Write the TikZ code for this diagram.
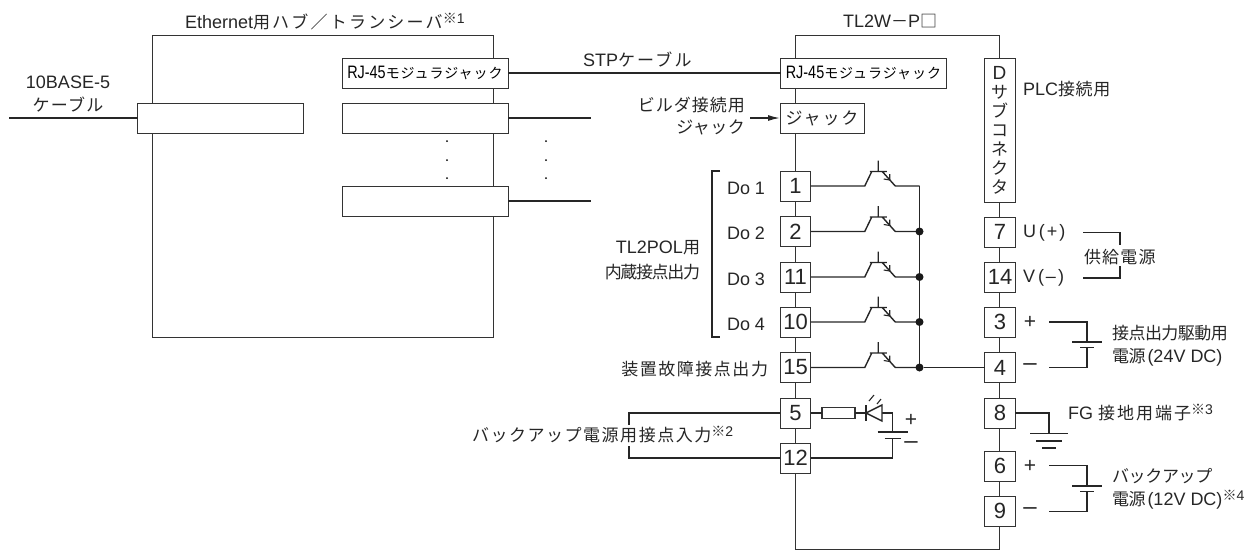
\documentclass[tikz,border=0pt]{standalone}
\usepackage{fontspec}
\setmainfont{Liberation Sans}
\newfontfamily\jp{Noto Sans CJK JP}
\usetikzlibrary{arrows.meta,calc}
\newcommand\fs[1]{\fontsize{#1}{#1}\selectfont}
\newcommand\J[2][0]{{\fs{17}\jp\addfontfeature{LetterSpace=#1}#2}}
\newcommand\Note[1]{\raisebox{5pt}{\fs{14}{\jp ※}#1}}
\tikzset{
  frame/.style={draw=black!80,line width=0.9pt},
  wire/.style={draw=black!85,line width=1.4pt},
  box/.style={draw=black!80,fill=white,line width=0.9pt,inner sep=0pt,outer sep=0pt,minimum height=30pt},
  wide/.style={box,minimum width=166pt},
  pinbox/.style={box,minimum width=30.5pt,font=\fs{22},text=black!85},
  txt/.style={inner sep=0pt,outer sep=0pt,font=\fs{18},text=black!85},
  dot/.style={circle,fill=black!90,inner sep=0pt,minimum size=8pt},
  tdot/.style={circle,fill=black,inner sep=0pt,minimum size=2pt},
}
\newcommand\RJ{\fs{18}\scalebox{.8}[1]{RJ-45}{\fs{14}\jp\addfontfeature{LetterSpace=7}モジュラジャック}}
\begin{document}
\begin{tikzpicture}[x=1pt,y=-1pt]
\useasboundingbox (0,0) rectangle (1256,550);
\coordinate (hubA) at (152.5,35); \coordinate (hubB) at (493,337);
\coordinate (tlA) at (795,35); \coordinate (tlB) at (999.5,549);
\draw[frame] (hubA) rectangle (hubB);
\draw[frame] (tlA) rectangle (tlB);
% left boxes
\node[wide] (hubrj) at (425,73) {\RJ};
\node[wide] (hub2) at (425,118) {};
\node[wide] (hub3) at (425,201) {};
\node[wide] (base) at (220.5,118) {};
\coordinate (c10) at (9,118);
\coordinate (s2) at (591,118);
\coordinate (s3) at (591,201);
\draw[wire] (c10) -- (base.west);
\draw[wire] (hub2.east) -- (s2);
\draw[wire] (hub3.east) -- (s3);
\foreach \x in {447,546} \foreach \y in {141,160,178} \node[tdot] at (\x,\y) {};
% right upper boxes
\node[wide] (tlrj) at (863.5,73) {\RJ};
\node[box,minimum width=84pt,text=black!85] (jack) at (822,118) {\J[11]{ジャック}};
\node[box,minimum width=31pt,minimum height=144pt,align=center,font=\fontsize{19}{19}\selectfont,text=black!85] (dsub) at (999.5,130)
  {D\\\J{サ}\\\J{ブ}\\\J{コ}\\\J{ネ}\\\J{ク}\\\J{タ}};
\draw[wire] (hubrj.east) -- (tlrj.west);
\coordinate (arr) at (750,118);
\draw[wire,-{Latex[length=12pt,width=6pt]}] (arr) -- (jack.west);
% pins left
\node[pinbox] (p1) at (795.5,186) {1};
\node[pinbox] (p2) at (795.5,231.5) {2};
\node[pinbox] (p11) at (795.5,277) {11};
\node[pinbox] (p10) at (795.5,322) {10};
\node[pinbox] (p15) at (795.5,367.5) {15};
\node[pinbox] (p5) at (795.5,413) {5};
\node[pinbox] (p12) at (795.5,458) {12};
% pins right
\node[pinbox] (r7) at (1000,232) {7};
\node[pinbox] (r14) at (1000,277) {14};
\node[pinbox] (r3) at (1000,322) {3};
\node[pinbox] (r4) at (1000,367.5) {4};
\node[pinbox] (r8) at (1000,413) {8};
\node[pinbox] (r6) at (1000,466) {6};
\node[pinbox] (r9) at (1000,511) {9};
% transistors
\coordinate (bustop) at (919.5,186);
\foreach \p in {p1,p2,p11,p10,p15} {
  \draw[wire,line join=miter] (\p.east) -- ++(54,0) -- ++(7,-14.5) ++(-2,0) -- ++(17,0) ++(-8.5,0) -- ++(0,-11) ++(4,11) -- ++(13,14.5) -- (\p.east -| bustop);
  \draw[wire,line width=1.1pt] (\p.east) ++(79,-6) -- ++(0,-6) ++(0,6) -- ++(-6,-1);
}
\draw[wire,line width=1.8pt] (bustop) -- (bustop |- p15.east);
\foreach \p in {p2,p11,p10,p15} \node[dot] (d\p) at (\p.east -| bustop) {};
\draw[wire] (dp15) -- (r4.west);
% bracket
\coordinate (bra) at (720,171); \coordinate (brb) at (720,337);
\draw[wire] (bra) -- ++(-8,0) -- ($(brb)+(-8,0)$) -- (brb);
% LED circuit
\node[box,minimum width=33pt,minimum height=11pt,line width=1.4pt] (res) at (838.5,413) {};
\coordinate (led) at (866,413);
\coordinate (bat) at (892.5,413);
\draw[wire] (p5.east) -- (res.west);
\draw[wire] (res.east) -- (bat) -- ++(0,19);
\draw[wire] (led) ++(0,-8) -- ++(0,16);
\draw[wire,fill=white,line join=miter] (led) -- ++(16,-8) -- ++(0,16) -- cycle;
\draw[wire,line width=1.1pt] (led) ++(3,-12) -- ++(5,-6);
\draw[wire,line width=1.1pt] (led) ++(11,-9) -- ++(4,-5);
\draw[wire] (bat |- 0,432) ++(-15,0) -- ++(30,0);
\draw[wire] (bat |- 0,438.5) ++(-8,0) -- ++(16,0);
\draw[wire] (bat |- 0,438.5) -- (bat |- p12.east) -- (p12.east);
\node[txt,font=\fs{21}] (plusb) at (911,420) {+};
\node[txt,font=\fs{24}] (minusb) at (911,445) {–};
% backup bracket
\coordinate (ba) at (629,413); \coordinate (bb) at (629,458);
\draw[wire] (p5.west) -- (ba) -- ++(0,12);
\draw[wire] (p12.west) -- (bb) -- ++(0,-12);
% right side wiring
\coordinate (u1) at (1083,232.5); \coordinate (u2) at (1120,232.5);
\coordinate (v1) at (1083,278); \coordinate (v2) at (1120,278);
\draw[wire] (u1) -- (u2) -- ++(0,12);
\draw[wire] (v1) -- (v2) -- ++(0,-12);
\coordinate (a1) at (1049,322); \coordinate (a2) at (1087,322);
\coordinate (a3) at (1049,367.5); \coordinate (a4) at (1087,367.5);
\draw[wire] (a1) -- (a2) -- ++(0,20);
\draw[wire] (a3) -- (a4) -- ++(0,-20);
\draw[wire] (a2) ++(-15,20) -- ++(30,0);
\draw[wire] (a4) ++(-7,-20) -- ++(14,0);
\coordinate (b1) at (1049,465.5); \coordinate (b2) at (1087,465.5);
\coordinate (b3) at (1049,511.5); \coordinate (b4) at (1087,511.5);
\draw[wire] (b1) -- (b2) -- ++(0,20.5);
\draw[wire] (b3) -- (b4) -- ++(0,-20.5);
\draw[wire] (b2) ++(-15,20.5) -- ++(30,0);
\draw[wire] (b4) ++(-7,-20) -- ++(14,0);
\coordinate (g) at (1049,433.5);
\draw[wire] (r8.east) -- (r8.east -| g) -- (g);
\draw[wire] (g) ++(-19,0) -- ++(38,0);
\draw[wire] (g) ++(-13,7.5) -- ++(26,0);
\draw[wire] (g) ++(-7,14.5) -- ++(14,0);
% text
\node[txt,anchor=west] (t1) at (185,22) {Ethernet\J[13]{用ハブ／トランシーバ}\Note{1}};
\node[txt] (t2) at (68,82) {10BASE-5};
\node[txt] (t3) at (68,105) {\J[7]{ケーブル}};
\node[txt,anchor=west] (t4) at (583,60) {STP\J[13]{ケーブル}};
\node[txt,anchor=west] (t5) at (843,21) {TL2W\J{－}P\J{□}};
\node[txt,anchor=east] (t6) at (745,105) {\J[6]{ビルダ接続用}};
\node[txt,anchor=east] (t7) at (745,127) {\J[3]{ジャック}};
\node[txt,anchor=west] (t8) at (1023,89) {PLC\J[4]{接続用}};
\node[txt,anchor=west] (d1) at (727,188) {Do 1};
\node[txt,anchor=west] (d2) at (727,233) {Do 2};
\node[txt,anchor=west] (d3) at (727,279) {Do 3};
\node[txt,anchor=west] (d4) at (727,324) {Do 4};
\node[txt,anchor=east] (t9) at (700,248) {TL2POL\J{用}};
\node[txt,anchor=east] (t10) at (700,272) {\J[-8]{内蔵接点出力}};
\node[txt,anchor=east] (t11) at (768,369) {\J[9]{装置故障接点出力}};
\node[txt,anchor=west] (t12) at (472,435) {\J[9]{バックアップ電源用接点入力}\Note{2}};
\node[txt,anchor=west] (u) at (1023,233) {U\hspace{3pt}(\hspace{2pt}+\hspace{2pt})};
\node[txt,anchor=west] (v) at (1023,278) {V\hspace{3pt}(\hspace{2pt}–\hspace{2pt})};
\node[txt,anchor=west] (t13) at (1084,257) {\J[7]{供給電源}};
\node[txt,font=\fs{21}] (pa) at (1030,322) {+};
\node[txt,font=\fs{24}] (ma) at (1030,367) {–};
\node[txt,font=\fs{21}] (pb) at (1030,466) {+};
\node[txt,font=\fs{24}] (mb) at (1030,511) {–};
\node[txt,anchor=west] (t14) at (1112,333) {\J[-3]{接点出力駆動用}};
\node[txt,anchor=west] (t15) at (1112,357) {\J[-3]{電源}\hspace{2pt}(24V DC)};
\node[txt,anchor=west] (t16) at (1068,413) {FG \J[12]{接地用端子}\Note{3}};
\node[txt,anchor=west] (t17) at (1112,476) {\J[-2]{バックアップ}};
\node[txt,anchor=west] (t18) at (1112,500) {\J[-3]{電源}\hspace{2pt}(12V DC)\Note{4}};
\end{tikzpicture}
\end{document}
